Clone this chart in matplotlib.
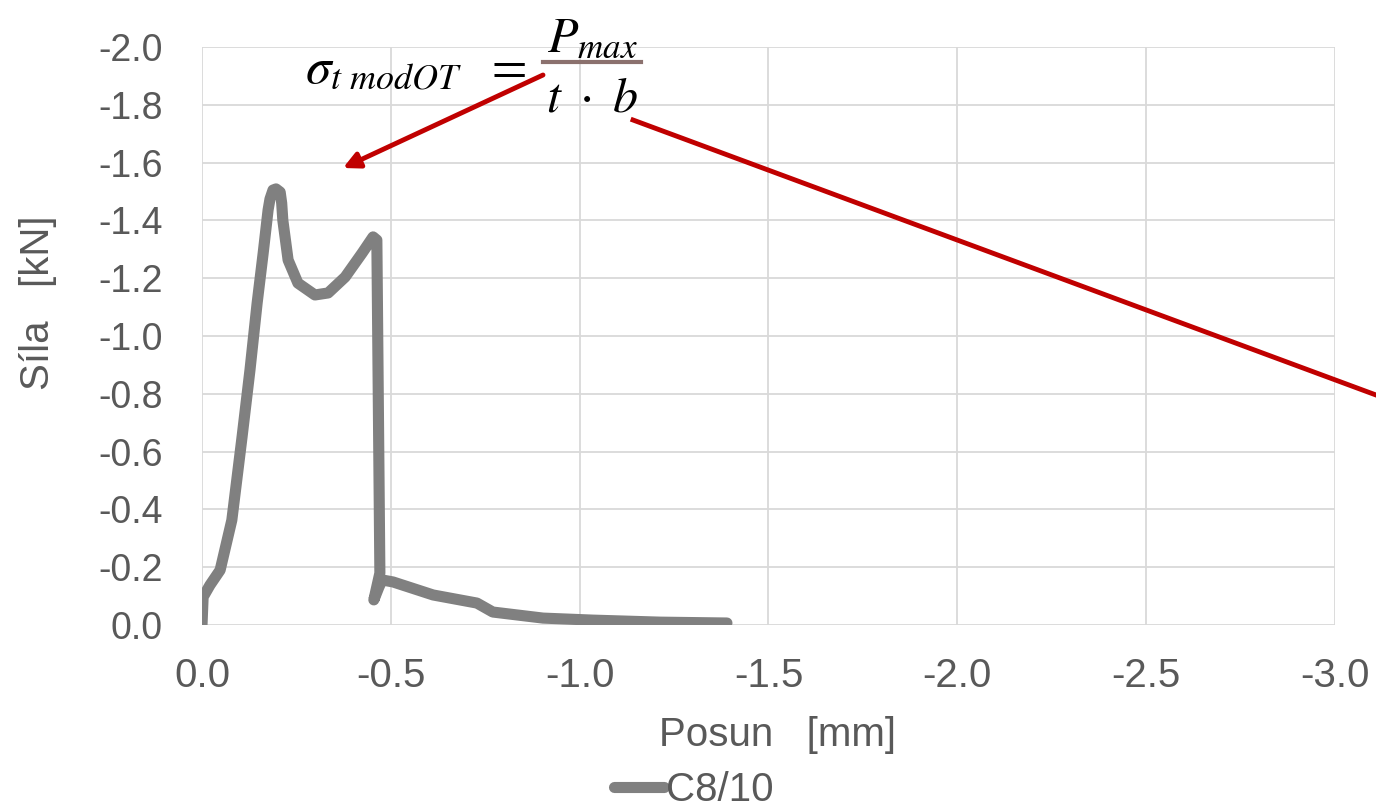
import numpy as np
import matplotlib
matplotlib.use("Agg")
import matplotlib.pyplot as plt
from matplotlib.ticker import FormatStrFormatter

plt.rcParams['font.family'] = ['Liberation Sans', 'DejaVu Sans']
plt.rcParams['axes.unicode_minus'] = False
plt.rcParams['mathtext.fontset'] = 'stix'

# C8/10 curve (displacement mm, force kN)
posun = [0.0, -0.003, -0.021, -0.048, -0.079, -0.106, -0.127, -0.146,
         -0.162, -0.175, -0.180, -0.188, -0.196, -0.207, -0.211, -0.214,
         -0.228, -0.254, -0.299, -0.334, -0.379, -0.424, -0.453, -0.463,
         -0.471, -0.455, -0.468, -0.477, -0.506, -0.612, -0.728, -0.770,
         -0.903, -1.035, -1.213, -1.39]
sila = [0.0, -0.097, -0.138, -0.19, -0.363, -0.650, -0.882, -1.114,
        -1.287, -1.436, -1.474, -1.505, -1.509, -1.498, -1.46, -1.401,
        -1.263, -1.183, -1.142, -1.149, -1.204, -1.287, -1.343, -1.332,
        -0.180, -0.087, -0.13, -0.156, -0.149, -0.104, -0.076, -0.045,
        -0.024, -0.017, -0.010, -0.007]

x_ticks = np.arange(0, -3.01, -0.5)
y_ticks = np.arange(0, -2.01, -0.2)

fig = plt.figure(figsize=(13.76, 8.09), dpi=100)
ax = fig.add_axes([0.1468, 0.2274, 0.8234, 0.7145])

ax.plot(posun, sila, color='#808080', lw=8, solid_capstyle='round',
        solid_joinstyle='round', label='C8/10')

ax.set_xlim(0, -3)
ax.set_ylim(0, -2)
ax.set_xticks(x_ticks)
ax.set_yticks(y_ticks)
ax.xaxis.set_major_formatter(FormatStrFormatter('%.1f'))
ax.yaxis.set_major_formatter(FormatStrFormatter('%.1f'))
ax.grid(True, color='#D9D9D9', lw=1.3)
ax.set_axisbelow(True)
for s in ax.spines.values():
    s.set_visible(False)
ax.tick_params(length=0, colors='#595959')
ax.tick_params(axis='y', labelsize=27, pad=28)
ax.tick_params(axis='x', labelsize=29, pad=23)

ax.set_xlabel('Posun   [mm]', fontsize=29, color='#595959')
ax.xaxis.set_label_coords(0.508, -0.19)
ax.xaxis.label.set_va('center')


def fx(px):
    return px / 1376


def fy(py):
    return 1 - py / 809


fig.text(fx(38), fy(303), 'Síla   [kN]', rotation=90, fontsize=29,
         color='#595959', ha='center', va='center')

ax.legend(loc='center', bbox_to_anchor=(fx(694), fy(790)),
          bbox_transform=fig.transFigure, frameon=False, fontsize=29,
          handlelength=1.25, handletextpad=0.05, labelcolor='#595959',
          borderpad=0, borderaxespad=0)

# formula
fig.text(fx(305), fy(70), r'$\sigma_{t\ modOT}\ \ =$', fontsize=37,
         ha='left', va='center')
fig.text(fx(592), fy(38), r'$P_{max}$', fontsize=36, ha='center', va='center')
fig.text(fx(592), fy(98), r'$t\ \cdot\ b$', fontsize=36, ha='center',
         va='center')
fig.add_artist(plt.Line2D([fx(543), fx(641)], [fy(62), fy(62)],
                          color='#8B716E', lw=3, transform=fig.transFigure))

# red arrows
fig.add_artist(plt.Line2D([fx(633), fx(1376)], [fy(120), fy(395)],
                          color='#C00000', lw=3.5, transform=fig.transFigure))
ax.annotate('', xy=(fx(343), fy(168)), xycoords='figure fraction',
            xytext=(fx(543), fy(75)), textcoords='figure fraction',
            arrowprops=dict(arrowstyle='-|>', color='#C00000', lw=3.5,
                            mutation_scale=24, shrinkA=0, shrinkB=0))

fig.savefig('out.png', dpi=100)
